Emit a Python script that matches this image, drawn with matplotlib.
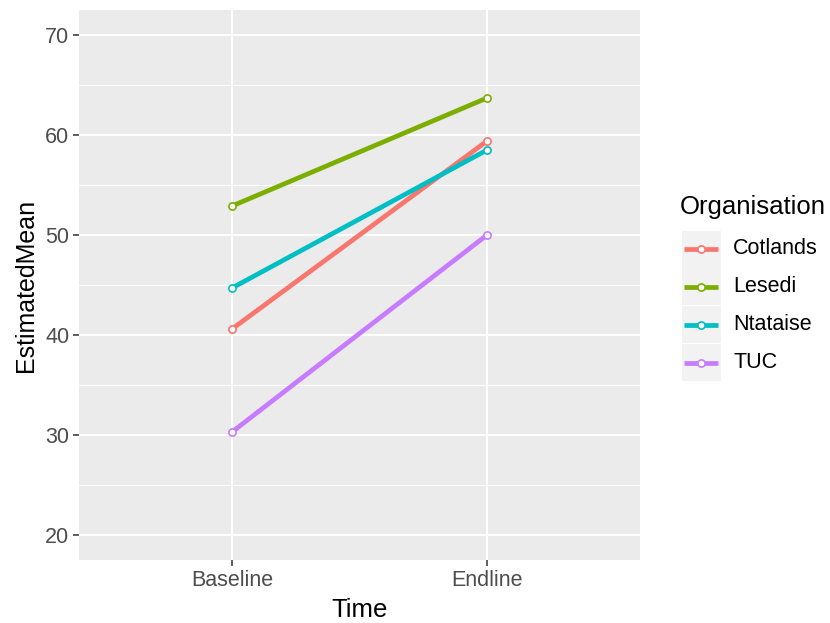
import matplotlib.pyplot as plt
from matplotlib.patches import Rectangle
import numpy as np

plt.rcParams['font.family'] = ['Liberation Sans', 'DejaVu Sans']

# estimated means per organisation at each time point
times = ['Baseline', 'Endline']
organisations = ['Cotlands', 'Lesedi', 'Ntataise', 'TUC']
cotlands = [40.6, 59.4]
lesedi = [52.9, 63.7]
ntataise = [44.7, 58.5]
tuc = [30.3, 50.0]
y_ticks = [20, 30, 40, 50, 60, 70]

series = [cotlands, lesedi, ntataise, tuc]
colors = ['#F8766D', '#7CAE00', '#00BFC4', '#C77CFF']

W, H = 830, 623
fig = plt.figure(figsize=(W / 100, H / 100), dpi=100)
ax = fig.add_axes([79 / W, (H - 560) / H, (640 - 79) / W, (560 - 10) / H])
ax.set_facecolor('#EBEBEB')

xpos = np.arange(1, len(times) + 1)
for vals, col in zip(series, colors):
    ax.plot(xpos, vals, color=col, lw=3.4, solid_capstyle='butt', zorder=3)
    ax.plot(xpos, vals, ls='none', marker='o', ms=5.2, mfc='white',
            mec=col, mew=1.2, zorder=4)

ax.set_xlim(0.4, len(times) + 0.6)
ax.set_ylim(17.5, 72.5)
ax.set_xticks(xpos)
ax.set_xticklabels(times)
ax.set_yticks(y_ticks)
ax.set_yticks([25, 35, 45, 55, 65], minor=True)
ax.grid(which='major', color='white', lw=1.4, zorder=0)
ax.grid(which='minor', axis='y', color='white', lw=0.7, zorder=0)
ax.set_axisbelow(True)
for s in ax.spines.values():
    s.set_visible(False)
ax.tick_params(which='major', length=4, width=1.1, color='#333333',
               labelsize=15.5, labelcolor='#4D4D4D', pad=3)
ax.tick_params(which='minor', length=0)
ax.set_xlabel('Time', fontsize=18.5, labelpad=5)
ax.set_ylabel('EstimatedMean', fontsize=18, labelpad=5)

# legend drawn in its own axes: grey key boxes with line + open point
lax = fig.add_axes([680 / W, (H - 384) / H, 150 / W, (384 - 188) / H])
lax.set_xlim(680, 830)
lax.set_ylim(384, 188)
lax.axis('off')
lax.text(680, 207, 'Organisation', fontsize=18.5, va='center', ha='left')
row_h = 38
for i, (name, col) in enumerate(zip(organisations, colors)):
    yc = 249 + i * row_h
    lax.add_patch(Rectangle((682, yc - row_h / 2 + 0.5), 39, row_h - 1,
                            facecolor='#F2F2F2', edgecolor='none'))
    lax.plot([684, 718], [yc, yc], color=col, lw=3.4, solid_capstyle='butt')
    lax.plot([701], [yc], ls='none', marker='o', ms=5.2, mfc='white',
             mec=col, mew=1.2)
    lax.text(733, yc, name, fontsize=15.5, va='center', ha='left')

fig.savefig('out.png', dpi=100)
